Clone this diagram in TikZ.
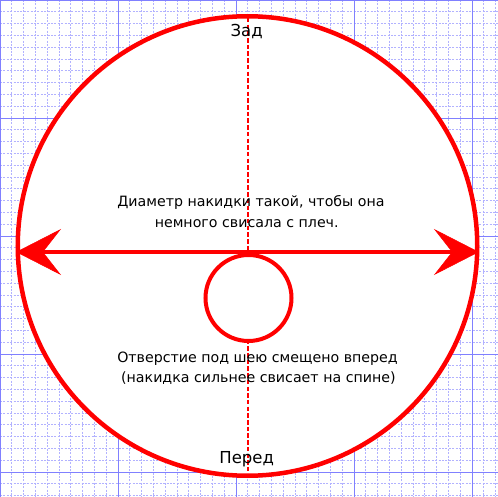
\documentclass[tikz,border=0pt]{standalone}
\usepackage{fontspec}
\setmainfont{DejaVu Sans}
\usetikzlibrary{arrows.meta}
\definecolor{gridmaj}{RGB}{128,128,255}
\definecolor{gridmin}{RGB}{178,178,255}
\tikzset{
  minorline/.style={gridmin, line width=0.9pt, dash pattern=on 2pt off 1.4pt},
  majorline/.style={gridmaj, line width=1.1pt},
  redline/.style={draw=red, line width=4.5pt},
  bodytext/.style={anchor=base, inner sep=0pt, font=\fontsize{14.2}{17}\selectfont},
  labeltext/.style={anchor=base, inner sep=0pt, font=\fontsize{16.5}{20}\selectfont},
}
\begin{document}
\begin{tikzpicture}[x=1pt,y=-1pt]
\useasboundingbox (0,0) rectangle (498,497);
\fill[white] (0,0) rectangle (498,497);
% grid
\foreach \i in {1,...,42} {
  \draw[minorline] ({\i*11.8},0) -- ({\i*11.8},497);
  \draw[minorline] (0,{\i*11.8}) -- (498,{\i*11.8});
}
\foreach \i in {0,...,4} {
  \draw[majorline] ({\i*118+0.5},0) -- ({\i*118+0.5},497);
  \draw[majorline] (0,{\i*118+0.5}) -- (498,{\i*118+0.5});
}
% cape outline
\node[redline, fill=white, circle, minimum size=459.5pt, inner sep=0pt] (cape) at (247.5,246) {};
% centre line
\coordinate (back) at (248,18);
\coordinate (front) at (248,476);
\draw[red, line width=2pt, dash pattern=on 4.5pt off 2.2pt] (back) -- (front);
% diameter arrow
\coordinate (dl) at (16,252);
\coordinate (dr) at (479,252);
\draw[red, line width=4.5pt, {Stealth[length=45pt,width=46pt,inset=18pt,line width=0.5pt]}-{Stealth[length=45pt,width=46pt,inset=18pt,line width=0.5pt]}] (dl) -- (dr);
% neck hole
\node[draw=red, line width=4pt, fill=white, circle, minimum size=86pt, inner sep=0pt] (neck) at (248.5,298) {};
% texts
\node[labeltext] (zad) at (246.7,36.7) {Зад};
\node[labeltext] (pered) at (246.7,463.3) {Перед};
\node[bodytext] (d1) at (251,206.7) {Диаметр накидки такой, чтобы она};
\node[bodytext] (d2) at (246.7,227.3) {немного свисала с плеч.};
\node[bodytext] (o1) at (257.5,362.7) {Отверстие под шею смещено вперед};
\node[bodytext] (o2) at (258.4,382.7) {(накидка сильнее свисает на спине)};
\end{tikzpicture}
\end{document}
